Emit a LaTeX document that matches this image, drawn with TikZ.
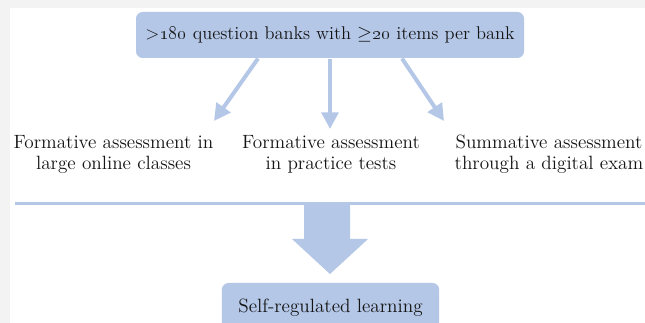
\documentclass[tikz,border=0pt]{standalone}
\usepackage{amsmath}
\usepackage{amssymb}
\usepackage{xcolor}
\usepackage{tikz}
\usetikzlibrary{arrows.meta,positioning}

\definecolor{boxblue}{HTML}{B4C7E7}
\definecolor{margingray}{HTML}{F3F3F3}
\definecolor{inkgray}{HTML}{141414}

\begin{document}
\begin{tikzpicture}[x=0.75pt, y=-0.75pt, thick,
    box/.style = {fill=boxblue, rounded corners=5pt, text=inkgray, inner sep=0pt},
    use/.style = {align=center, text=inkgray, font=\fontsize{14.4}{15.75}\selectfont},
    link/.style = {draw=boxblue, line width=3pt, -{Triangle[length=12.5pt, width=12.5pt]}}]
    \useasboundingbox (0,0) rectangle (645,323);
    \fill[margingray] (0,0) rectangle (645,323);
    \fill[white] (10,8.5) rectangle (645,323);

    \node[box, minimum width=291pt, minimum height=34.5pt, font=\fontsize{13.8}{16}\selectfont] (bank) at (330,35)
        {>\oldstylenums{180} question banks with $\geq$\oldstylenums{20} items per bank};
    \node[use] (online)   at (113.5,154.5) {Formative assessment in\\large online classes};
    \node[use] (practice) at (331,154.5)   {Formative assessment\\in practice tests};
    \node[use] (exam)     at (549,154.5)   {Summative assessment\\through a digital exam};
    \node[box, minimum width=163pt, minimum height=37.5pt, font=\fontsize{14.4}{16}\selectfont] (srl) at (330.5,308)
        {Self-regulated learning};

    \coordinate (tipL) at (214,121);
    \coordinate (tipM) at (330,129);
    \coordinate (tipR) at (444,121);
    \draw[link] ([xshift=-54pt]bank.south) -- (tipL);
    \draw[link] (bank.south) -- (tipM);
    \draw[link] ([xshift=54pt]bank.south) -- (tipR);

    % divider and block arrow
    \coordinate (lineL) at (15,204);
    \coordinate (lineR) at (645,204);
    \draw[boxblue, line width=2.25pt] (lineL) -- (lineR);
    \fill[boxblue] (304,205) -- (350,205) -- (350,239) -- (368,239) -- (330,274)
        -- (292,239) -- (304,239) -- cycle;
\end{tikzpicture}
\end{document}
